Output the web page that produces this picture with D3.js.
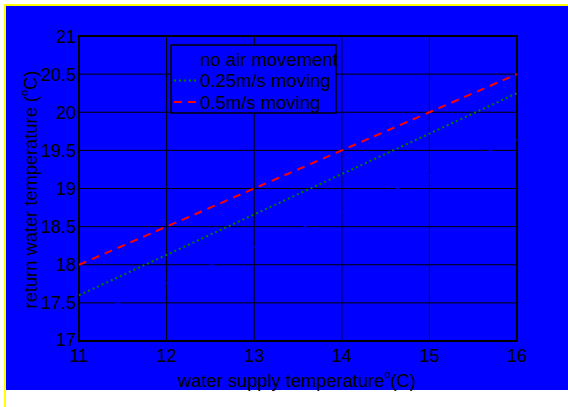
<!DOCTYPE html>
<html><head><meta charset="utf-8">
<script src="https://cdn.jsdelivr.net/npm/d3@7"></script>
<style>html,body{margin:0;padding:0;background:#fff;}svg{display:block;font-family:"Liberation Sans",Arial,sans-serif;}</style>
</head><body>
<script>
const supplyTemps = [11, 12, 13, 14, 15, 16];
const noAir = [17.29, 17.76, 18.23, 18.70, 19.17, 19.64];
const moving025 = [17.60, 18.13, 18.66, 19.19, 19.72, 20.25];
const moving05 = [18.0, 18.5, 19.0, 19.5, 20.0, 20.5];
const seriesNames = ["no air movement", "0.25m/s moving", "0.5m/s moving"];
const xTicks = [11, 12, 13, 14, 15, 16];
const yTicks = [17, 17.5, 18, 18.5, 19, 19.5, 20, 20.5, 21];

const W = 568, H = 407;
const svg = d3.select("body").append("svg").attr("width", W).attr("height", H);
svg.append("rect").attr("x",0).attr("y",0).attr("width",W).attr("height",H).attr("fill","#fff");
svg.append("rect").attr("x",4).attr("y",4).attr("width",W-4).attr("height",2).attr("fill","#ffff00");
svg.append("rect").attr("x",4).attr("y",4).attr("width",2).attr("height",H-4).attr("fill","#ffff00");
svg.append("rect").attr("x",6).attr("y",6).attr("width",W-6).attr("height",384).attr("fill","#0000ff");

const L = 79, R = 517, T = 36, B = 341;
const x = d3.scaleLinear().domain([11,16]).range([L,R]);
const y = d3.scaleLinear().domain([17,21]).range([B,T]);

// grid
const g = svg.append("g");
g.selectAll(".vg").data(xTicks).join("line")
  .attr("x1",d=>x(d)).attr("x2",d=>x(d)).attr("y1",T).attr("y2",B)
  .attr("stroke","#000").attr("stroke-width",1);
g.selectAll(".hg").data(yTicks).join("line")
  .attr("x1",L).attr("x2",R).attr("y1",d=>y(d)).attr("y2",d=>y(d))
  .attr("stroke","#000").attr("stroke-width",1);

// frame
svg.append("rect").attr("x",L).attr("y",T).attr("width",R-L).attr("height",B-T)
  .attr("fill","none").attr("stroke","#000").attr("stroke-width",2);

// tick labels
svg.selectAll(".xt").data(xTicks).join("text")
  .attr("x",d=>x(d)).attr("y",B+21).attr("text-anchor","middle")
  .attr("font-size",18).attr("fill","#000").text(d=>d);
svg.selectAll(".yt").data(yTicks).join("text")
  .attr("x",L-3).attr("y",d=>y(d)+(d===17?4.5:6.5)).attr("text-anchor","end")
  .attr("font-size",18).attr("fill","#000").text(d=>d);

// axis labels
const xl = svg.append("text").attr("x",(L+R)/2 - 1).attr("y",387).attr("text-anchor","middle")
  .attr("font-size",18.3).attr("fill","#000");
xl.append("tspan").text("water supply temperature");
xl.append("tspan").attr("font-size",11).attr("dy",-9).text("o");
xl.append("tspan").attr("dy",9).text("(C)");

const yl = svg.append("text").attr("transform",`translate(37,${(T+B)/2+1}) rotate(-90)`)
  .attr("text-anchor","middle").attr("font-size",18.3).attr("fill","#000");
yl.append("tspan").text("return water temperature (");
yl.append("tspan").attr("font-size",11).attr("dy",-9).text("o");
yl.append("tspan").attr("dy",9).text("C)");

// lines
const series = [
  {name: seriesNames[0], vals: noAir, color:"#0000ff", dash:null, w:1},
  {name: seriesNames[1], vals: moving025, color:"#008000", dash:"2,3", w:2},
  {name: seriesNames[2], vals: moving05, color:"#ff0000", dash:"8,6", w:2}
];
const line = d3.line().x((d,i)=>x(supplyTemps[i])).y(d=>y(d));
series.forEach(s=>{
  svg.append("path").attr("d",line(s.vals)).attr("fill","none")
    .attr("stroke",s.color).attr("stroke-width",s.w)
    .attr("stroke-dasharray",s.dash);
});

// legend
const lg = svg.append("g");
lg.append("rect").attr("x",171).attr("y",45).attr("width",165).attr("height",68)
  .attr("fill","#0000ff").attr("stroke","#000").attr("stroke-width",1.5);
series.forEach((s,i)=>{
  const cy = 59 + i*21.5;
  lg.append("line").attr("x1",174).attr("x2",196).attr("y1",cy).attr("y2",cy)
    .attr("stroke",s.color).attr("stroke-width",s.w).attr("stroke-dasharray",s.dash);
  lg.append("text").attr("x",200).attr("y",cy+6.5).attr("font-size",18.5)
    .attr("fill","#000").text(s.name);
});
</script>
</body></html>
